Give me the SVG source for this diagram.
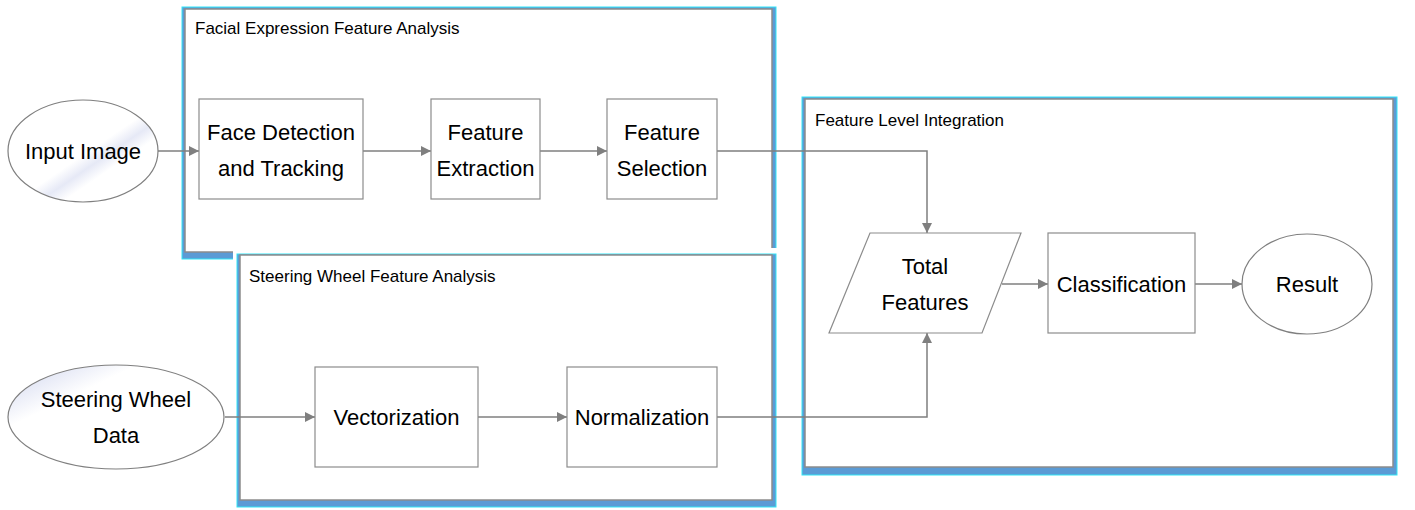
<svg xmlns="http://www.w3.org/2000/svg" width="1415" height="510" viewBox="0 0 1415 510">
  <style>
    .frame-back { fill: #5B9BD5; stroke: #33E6F5; stroke-width: 1; }
    .frame { fill: #FFFFFF; stroke: #8C8C8C; stroke-width: 1.5; }
    .box { fill: #FFFFFF; stroke: #8C8C8C; stroke-width: 1.2; }
    .oval { stroke: #7F7F7F; stroke-width: 1.2; }
    .title { font-family: "Liberation Sans", Arial, sans-serif; font-size: 17px; fill: #000000; }
    .label { font-family: "Liberation Sans", Arial, sans-serif; font-size: 22px; fill: #000000; text-anchor: middle; dominant-baseline: central; }
    .link { fill: none; stroke: #7F7F7F; stroke-width: 1.5; marker-end: url(#arrow); }
  </style>
  <defs>
    <marker id="arrow" viewBox="0 0 10 10" refX="10" refY="5" markerWidth="10" markerHeight="10" markerUnits="userSpaceOnUse" orient="auto">
      <path d="M0,0 L10,5 L0,10 z" fill="#7F7F7F"/>
    </marker>
    <linearGradient id="sheen1" x1="0" y1="0" x2="1" y2="1">
      <stop offset="0" stop-color="#FFFFFF"/>
      <stop offset="0.52" stop-color="#FFFFFF"/>
      <stop offset="0.6" stop-color="#E6E9F6"/>
      <stop offset="0.68" stop-color="#FFFFFF"/>
      <stop offset="1" stop-color="#FFFFFF"/>
    </linearGradient>
    <linearGradient id="sheen2" x1="0" y1="0" x2="1" y2="1">
      <stop offset="0" stop-color="#FFFFFF"/>
      <stop offset="0.15" stop-color="#E6E9F6"/>
      <stop offset="0.3" stop-color="#FFFFFF"/>
      <stop offset="1" stop-color="#FFFFFF"/>
    </linearGradient>
  </defs>

  <rect width="1415" height="510" fill="#FFFFFF"/>

  <!-- Facial expression container -->
  <g id="facial-analysis">
    <rect class="frame-back" x="182" y="7" width="594" height="252"/>
    <rect class="frame" x="185" y="9" width="587" height="243"/>
    <text class="title" x="195" y="34">Facial Expression Feature Analysis</text>
  </g>

  <!-- Steering wheel container (white margin hides the panel behind) -->
  <g id="steering-analysis">
    <rect x="233" y="248" width="550" height="262" fill="#FFFFFF"/>
    <rect class="frame-back" x="237" y="254" width="539" height="253"/>
    <rect class="frame" x="240" y="255" width="532" height="245"/>
    <text class="title" x="249" y="282">Steering Wheel Feature Analysis</text>
  </g>

  <!-- Feature level integration container -->
  <g id="feature-integration">
    <rect class="frame-back" x="802" y="97" width="595" height="378"/>
    <rect class="frame" x="805" y="99" width="588" height="368"/>
    <text class="title" x="815" y="126">Feature Level Integration</text>
  </g>

  <!-- Connectors -->
  <g id="connectors">
    <path class="link" d="M158,151 H199"/>
    <path class="link" d="M363,151 H431"/>
    <path class="link" d="M540,151 H607"/>
    <path class="link" d="M717,151 H927 V233"/>
    <path class="link" d="M225,417 H315"/>
    <path class="link" d="M478,417 H567"/>
    <path class="link" d="M717,417 H927 V333"/>
    <path class="link" d="M1002,284 H1048"/>
    <path class="link" d="M1195,284 H1242"/>
  </g>

  <g id="input-image">
    <ellipse class="oval" cx="83" cy="151" rx="75" ry="51" fill="url(#sheen1)"/>
    <text class="label" x="83" y="151">Input Image</text>
  </g>

  <g id="steering-data">
    <ellipse class="oval" cx="116" cy="417" rx="108" ry="52" fill="url(#sheen2)"/>
    <text class="label" x="116" y="399">Steering Wheel</text>
    <text class="label" x="116" y="435">Data</text>
  </g>

  <g id="face-detection">
    <rect class="box" x="199" y="99" width="164" height="100"/>
    <text class="label" x="281" y="132">Face Detection</text>
    <text class="label" x="281" y="168">and Tracking</text>
  </g>

  <g id="feature-extraction">
    <rect class="box" x="431" y="99" width="109" height="100"/>
    <text class="label" x="485.5" y="132">Feature</text>
    <text class="label" x="485.5" y="168">Extraction</text>
  </g>

  <g id="feature-selection">
    <rect class="box" x="607" y="99" width="110" height="100"/>
    <text class="label" x="662" y="132">Feature</text>
    <text class="label" x="662" y="168">Selection</text>
  </g>

  <g id="vectorization">
    <rect class="box" x="315" y="367" width="163" height="100"/>
    <text class="label" x="396.5" y="417">Vectorization</text>
  </g>

  <g id="normalization">
    <rect class="box" x="567" y="367" width="150" height="100"/>
    <text class="label" x="642" y="417">Normalization</text>
  </g>

  <g id="total-features">
    <polygon class="box" points="870,233 1021,233 982,333 829,333"/>
    <text class="label" x="925" y="266">Total</text>
    <text class="label" x="925" y="302">Features</text>
  </g>

  <g id="classification">
    <rect class="box" x="1048" y="233" width="147" height="100"/>
    <text class="label" x="1121.5" y="284">Classification</text>
  </g>

  <g id="result">
    <ellipse class="oval" cx="1307" cy="284" rx="65" ry="50" fill="#FFFFFF"/>
    <text class="label" x="1307" y="284">Result</text>
  </g>
</svg>
